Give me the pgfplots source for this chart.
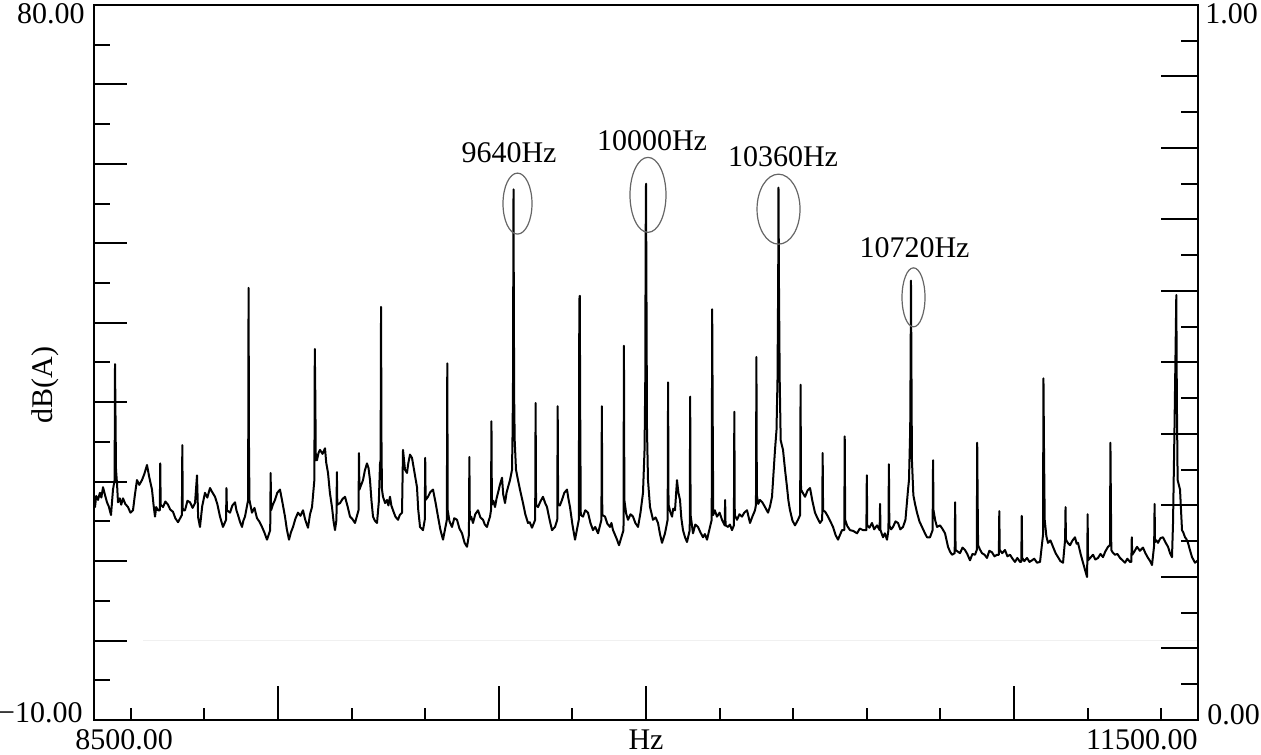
\documentclass[border=0pt]{standalone}
\usepackage{fontspec}
\setmainfont{Liberation Serif}
\usepackage{pgfplots}
\pgfplotsset{compat=1.18}
\newcommand\lbl{\fontsize{15}{18}\selectfont}
\begin{document}
\begin{tikzpicture}[font=\lbl]
\useasboundingbox (-47pt,-17pt) rectangle (583.5pt,360pt);
\pgfplotsset{base/.style={scale only axis, width=552pt, height=357.5pt,
  at={(0pt,0pt)}, anchor=south west, axis line style={line width=1pt, black},
  every tick/.style={black, line width=1pt}, tick align=inside,
  xmin=8500, xmax=11500, scaled ticks=false, xticklabels={}, yticklabels={}}}
% y ticks, left
\begin{axis}[base, name=ax, ymin=-10, ymax=80, xtick=\empty,
  ytick={0,10,20,30,40,50,60,70}, minor ytick={-5,5,15,25,35,45,55,65,75},
  ytick pos=left, major tick length=16.5pt, minor tick length=8pt]
\addplot[black!6, line width=0.8pt, forget plot] coordinates {(8634,0) (11500,0)};
\addplot[black, line width=1pt, line join=round, mark=none] table[row sep=\\] {
x y\\
8500 17.1\\ 8502.7 16.8\\ 8506 18.2\\ 8510.9 17.7\\ 8516 18.6\\ 8520 18.0\\ 8524.5 19.3\\ 8530 18.3\\ 8535.3 17.4\\ 8540 16.9\\ 8546.2 15.8\\ 8551.6 19.0\\
8556.0 20.2\\ 8557.1 34.8\\ 8558.2 29.4\\ 8559.8 21.5\\ 8562.5 19.8\\
8565.2 17.4\\ 8570 17.9\\ 8574 17.1\\ 8578.8 17.9\\ 8585 17.2\\ 8592.4 16.8\\ 8599 16.1\\ 8606.0 16.4\\ 8611 18.3\\ 8616.8 20.2\\ 8623 19.6\\ 8630.4 20.2\\ 8637 21.0\\ 8644.0 22.1\\ 8650 20.6\\ 8657.6 19.0\\ 8662 17.0\\ 8665.8 15.6\\ 8669 16.8\\ 8673.9 16.4\\
8678.8 16.4\\ 8680 22.3\\ 8681.2 17.1\\
8687.5 16.8\\ 8694 17.5\\ 8701.1 17.1\\ 8707 16.5\\ 8714.7 16.2\\ 8721 15.4\\ 8728.3 14.9\\
8738.8 15.8\\ 8740 24.6\\ 8741.2 16.4\\
8747.3 16.4\\ 8754 17.6\\ 8760.9 17.4\\ 8768 16.7\\ 8774.5 17.3\\ 8779.9 20.8\\ 8783 15.5\\ 8788.0 14.3\\ 8794 16.9\\ 8801.6 18.6\\ 8808 18.0\\ 8815.2 19.2\\ 8821 18.7\\ 8828.8 18.1\\ 8835 17.2\\ 8842.4 15.6\\ 8850.5 14.3\\
8858.8 15.2\\ 8860 19.2\\ 8861.2 16.4\\
8869.6 16.1\\ 8876 17.0\\ 8883.2 17.4\\ 8887 16.4\\ 8891.3 15.8\\ 8897 14.9\\ 8902.2 14.3\\ 8906 15.1\\ 8910.3 15.6\\
8918.8 17.7\\ 8920 44.4\\ 8921.2 24.0\\ 8922.4 17.7\\
8929.3 16.1\\ 8936 16.7\\ 8942.9 15.4\\ 8949 15.0\\ 8956.5 14.3\\ 8963 13.6\\ 8970.1 12.7\\
8978.8 13.9\\ 8980 21.1\\ 8981.2 16.4\\
8986 17.1\\ 8991.8 17.7\\ 8998 18.6\\ 9005.4 19.0\\ 9012 17.4\\ 9019.0 15.6\\ 9024 14.0\\ 9029.9 12.7\\ 9035 13.6\\ 9040.8 14.3\\ 9047 15.3\\ 9054.3 16.1\\ 9061 15.7\\ 9067.9 16.4\\ 9074 15.2\\ 9081.5 14.2\\ 9087 15.9\\ 9092.4 16.8\\
9098.8 20.2\\ 9100 36.7\\ 9101.5 30.3\\ 9102.7 22.7\\
9106.0 22.7\\ 9110 23.6\\ 9114.1 24.0\\ 9121 23.5\\ 9127.7 24.2\\ 9131 22.4\\ 9135.9 21.1\\ 9141 18.6\\ 9146.7 16.8\\ 9151 15.0\\ 9154.9 13.9\\
9158.8 15.2\\ 9160 21.2\\ 9161.2 17.1\\
9168.5 17.3\\ 9175 17.8\\ 9182.1 18.1\\ 9189 16.9\\ 9195.7 15.6\\ 9202 15.3\\ 9209.2 14.8\\
9218.8 16.4\\ 9220 23.6\\ 9221.2 19.0\\
9231.0 20.2\\ 9236 21.4\\ 9241.8 22.3\\ 9246 21.7\\ 9250.0 20.2\\ 9254 17.6\\ 9258.2 15.6\\ 9263 15.1\\ 9269.0 14.8\\ 9274 17.5\\ 9277.2 22.3\\
9278.8 22.7\\ 9280 42.0\\ 9281.3 24.0\\ 9282.6 19.0\\
9285.3 18.1\\ 9291 17.3\\ 9296.2 17.7\\ 9300 17.0\\ 9304.3 18.1\\ 9308 17.0\\ 9312.5 16.4\\ 9319 15.6\\ 9326.1 15.2\\ 9331 15.8\\ 9337.0 16.1\\ 9339.7 24.0\\ 9345.1 21.5\\ 9350.5 21.1\\ 9354 22.3\\ 9358.7 23.4\\ 9364.1 23.0\\ 9370 21.4\\ 9377.7 19.3\\ 9381 16.5\\ 9385.9 14.3\\ 9394.0 13.9\\
9398.8 15.2\\ 9400 23.0\\ 9401.2 17.7\\
9407.6 18.1\\ 9414 18.7\\ 9421.2 19.0\\ 9428 17.4\\ 9434.8 15.6\\ 9441 14.0\\ 9448.4 12.7\\
9458.8 15.2\\ 9460 34.9\\ 9461.2 16.4\\
9466 15.0\\ 9472.8 14.3\\ 9479 15.4\\ 9486.4 15.2\\ 9493 14.1\\ 9500.0 13.5\\ 9507 12.3\\ 9513.6 11.8\\
9518.8 13.3\\ 9520 23.1\\ 9521.2 15.2\\
9525 15.6\\ 9529.9 14.8\\ 9536 15.9\\ 9543.5 16.4\\ 9550 15.5\\ 9557.1 15.2\\ 9562 14.6\\ 9567.9 14.3\\ 9572 15.0\\ 9576.1 15.6\\
9578.8 16.4\\ 9580 27.6\\ 9581.2 17.1\\
9585 17.6\\ 9589.7 16.8\\ 9594 17.9\\ 9597.8 18.6\\ 9603 19.6\\ 9608.7 20.5\\ 9612 18.4\\ 9616.9 17.3\\ 9621 18.6\\ 9625.0 19.3\\ 9630.4 20.2\\ 9635.9 21.5\\
9637.5 26.5\\ 9638.7 33.2\\ 9639.4 47.9\\ 9640 56.8\\ 9640.8 42.9\\ 9641.8 30.3\\ 9643.2 25.2\\ 9646.7 21.5\\
9652.2 20.2\\ 9658 18.9\\ 9665.8 17.3\\ 9672 15.9\\ 9679.3 14.8\\ 9684 14.9\\ 9690.2 14.2\\
9698.8 15.2\\ 9700 29.9\\ 9701.2 17.1\\
9706.5 16.8\\ 9713 17.5\\ 9720.1 18.1\\ 9726 17.3\\ 9731.0 16.8\\ 9738 15.2\\ 9744.6 13.9\\ 9752.7 14.3\\
9758.8 15.2\\ 9760 29.5\\ 9761.2 17.1\\
9766 17.0\\ 9771.7 17.7\\ 9778 18.6\\ 9785.3 19.0\\ 9789 17.9\\ 9793.5 16.8\\ 9800 14.6\\ 9807.1 12.7\\
9817.4 15.2\\ 9818.8 42.9\\ 9820 43.4\\ 9821.3 27.8\\ 9822.7 15.8\\
9828.8 15.6\\ 9835 16.4\\ 9842.4 16.1\\ 9849 14.8\\ 9856.0 13.9\\ 9862 14.3\\ 9869.6 13.5\\
9878.8 15.2\\ 9880 29.5\\ 9881.2 15.8\\
9888.6 15.6\\ 9895 14.7\\ 9902.2 14.3\\ 9906 14.8\\ 9910.3 13.9\\ 9915 13.4\\ 9921.2 12.7\\ 9926.6 12.0\\
9938.8 13.9\\ 9940 37.1\\ 9941.2 17.7\\
9946 16.0\\ 9951.1 15.2\\ 9958 15.9\\ 9964.7 15.6\\ 9971 14.8\\ 9978.3 14.3\\ 9985 16.1\\ 9991.8 18.6\\
9996 24.0\\ 9998 32.8\\ 9999 50.4\\ 10000 57.5\\ 10001.3 42.9\\ 10002.7 26.5\\ 10005.4 20.2\\
10010.9 16.8\\ 10015 16.0\\ 10019.0 15.2\\ 10026 15.5\\ 10032.6 14.8\\ 10038 13.4\\ 10043.5 12.3\\ 10051.6 13.5\\
10058.8 15.2\\ 10060 32.5\\ 10061.2 17.1\\
10066 16.2\\ 10070.7 15.6\\ 10074 16.6\\ 10078.8 16.4\\ 10084.2 20.2\\ 10088 18.6\\ 10092.4 17.7\\ 10096 15.4\\ 10100.5 13.9\\ 10106 13.0\\ 10111.4 12.4\\
10118.8 13.9\\ 10120 30.7\\ 10121.2 15.8\\
10127.7 13.5\\ 10134 14.6\\ 10141.3 14.3\\ 10148 13.6\\ 10154.9 13.0\\ 10160 13.4\\ 10165.8 12.7\\ 10173.9 14.3\\
10178.5 15.2\\ 10179.8 41.7\\ 10181.4 26.5\\ 10182.7 15.8\\
10187 16.4\\ 10192.9 15.6\\ 10200 16.1\\ 10206.5 15.2\\
10213.8 14.5\\ 10215 17.7\\ 10216.2 14.5\\
10222.8 14.3\\ 10228 14.6\\ 10233.7 13.9\\
10238.8 14.5\\ 10240 28.8\\ 10241.2 15.8\\
10247.3 15.2\\ 10254 15.9\\ 10260.9 15.6\\ 10267 16.1\\ 10274.5 16.4\\ 10282.6 14.8\\ 10289 15.6\\ 10296.2 16.4\\
10298.8 17.1\\ 10300 35.7\\ 10301.2 18.3\\
10305 17.2\\ 10309.8 17.7\\ 10316 17.4\\ 10323.4 16.8\\ 10331.5 16.1\\ 10337 16.9\\ 10342.4 18.1\\ 10350.5 24.0\\
10354.6 26.5\\ 10357.3 32.8\\ 10359.2 45.4\\ 10360 57.0\\ 10361.4 44.1\\ 10363.3 32.8\\ 10366 25.2\\
10372.3 24.0\\ 10378 21.4\\ 10383.2 19.3\\ 10387 17.6\\ 10391.3 16.4\\ 10398 15.1\\ 10404.9 14.5\\ 10413.0 15.2\\
10418.8 15.8\\ 10420 32.2\\ 10421.2 19.0\\
10426 18.6\\ 10432.1 18.1\\ 10439 18.9\\ 10445.7 19.2\\ 10452 17.6\\ 10459.2 16.1\\ 10466 15.4\\ 10472.8 14.8\\
10478.8 15.2\\ 10480 23.6\\ 10481.2 16.4\\
10487 16.2\\ 10494.6 15.6\\ 10501 15.0\\ 10508.2 14.3\\ 10515 13.3\\ 10521.7 12.7\\ 10532.6 13.9\\
10538.8 13.9\\ 10540 25.7\\ 10541.2 15.2\\
10547 14.4\\ 10554.3 13.9\\ 10563 13.8\\ 10573.4 13.5\\ 10581 14.1\\ 10589.7 13.9\\
10598.8 13.9\\ 10600 20.8\\ 10601.2 14.5\\
10607 14.2\\ 10614.1 14.8\\ 10620 14.0\\ 10627.7 14.5\\
10634.8 13.9\\ 10636 17.2\\ 10637.2 13.9\\
10644.0 13.0\\ 10649 13.5\\ 10654.9 12.7\\
10658.8 13.9\\ 10660 22.2\\ 10661.2 14.5\\
10666 14.0\\ 10671.2 14.3\\ 10678 15.0\\ 10684.8 14.8\\ 10691 14.0\\ 10698.4 14.3\\ 10705 15.2\\ 10712.0 19.0\\
10714.6 20.2\\ 10717.9 26.5\\ 10719.2 36.6\\ 10720 45.3\\ 10721 36.6\\ 10722.6 22.7\\ 10726.5 18.3\\
10731 17.2\\ 10736.4 16.1\\ 10743 15.0\\ 10750.0 14.3\\ 10757 13.6\\ 10763.6 13.0\\ 10771.7 13.0\\
10778.8 13.9\\ 10780 22.7\\ 10781.2 16.4\\
10786 15.1\\ 10790.8 14.3\\ 10798.9 14.5\\ 10805 14.1\\ 10812.5 13.5\\ 10820.7 11.8\\ 10826 11.2\\ 10831.5 10.8\\
10838.8 11.0\\ 10840 17.4\\ 10841.2 11.4\\
10847 11.2\\ 10853.3 11.0\\ 10860 11.7\\ 10866.8 11.4\\ 10873 10.9\\ 10880.4 10.1\\ 10887 10.9\\ 10894.0 10.8\\
10898.8 11.4\\ 10900 24.9\\ 10901.2 17.7\\ 10902.4 12.0\\
10907 11.5\\ 10913.0 11.0\\ 10920 10.8\\ 10926.6 10.4\\ 10933 11.3\\ 10940.2 11.1\\ 10947 10.6\\ 10953.8 10.8\\
10958.8 10.8\\ 10960 16.3\\ 10961.2 11.4\\
10968 11.0\\ 10975.5 11.4\\ 10982 10.6\\ 10989.1 10.8\\ 10996 10.3\\ 11002.7 9.9\\ 11009 10.4\\ 11016.3 9.9\\
11019.8 9.9\\ 11021 15.7\\ 11022.2 10.4\\
11028 10.0\\ 11035.3 10.4\\ 11042 9.9\\ 11048.9 10.1\\ 11055 10.3\\ 11062.5 9.8\\ 11070.7 9.9\\
11078.8 13.3\\ 11080 33.0\\ 11081.5 24.0\\ 11083.4 15.2\\
11088 13.1\\ 11092.4 12.3\\ 11099 12.6\\ 11106.0 11.8\\ 11113 11.0\\ 11119.6 10.5\\ 11126 10.0\\ 11133.2 9.8\\
11138.8 12.7\\ 11140 16.8\\ 11141.2 12.7\\
11146 12.3\\ 11152.2 12.0\\ 11159 12.6\\ 11165.8 13.0\\ 11170 12.2\\ 11173.9 12.3\\ 11181 10.9\\ 11187.5 9.8\\ 11198.4 8.0\\
11199.2 10.1\\ 11200 15.9\\ 11201.2 10.1\\
11207 10.4\\ 11214.7 10.8\\ 11221 10.2\\ 11228.3 10.4\\ 11235 10.9\\ 11241.8 10.5\\ 11248 11.2\\ 11255.4 11.8\\
11260.8 12.0\\ 11262 24.9\\ 11263.2 17.7\\ 11264.4 11.4\\
11268 11.1\\ 11274.5 10.8\\ 11281 10.9\\ 11288.0 10.4\\ 11295 10.1\\ 11301.6 9.8\\ 11308 10.3\\ 11315.2 9.9\\
11318.8 9.9\\ 11320 13.0\\ 11321.2 10.8\\
11327 11.2\\ 11334.2 11.8\\ 11342 11.3\\ 11350.5 11.7\\ 11357 11.0\\ 11364.1 10.4\\ 11370 10.0\\ 11375.0 9.5\\
11380.8 12.0\\ 11382 17.2\\ 11383.2 12.4\\
11387 12.6\\ 11391.3 12.3\\ 11398 12.9\\ 11404.9 13.0\\ 11411 12.4\\ 11418.5 11.8\\ 11424 11.0\\ 11429.3 10.5\\ 11432.1 14.8\\
11436 26.5\\ 11439 36.6\\ 11441 43.5\\ 11442.5 30.3\\ 11444.6 20.2\\
11451.1 19.0\\ 11456.5 13.9\\ 11460 13.6\\ 11464.7 13.0\\ 11468 12.8\\ 11472.8 12.3\\ 11478 11.4\\ 11483.7 10.5\\ 11491.8 9.8\\ 11500 10.1\\
};
\draw[black!60, line width=0.6pt] (axis cs:9650.8,55.0) ellipse [x radius=7.25pt, y radius=15.25pt];
\draw[black!60, line width=0.6pt] (axis cs:10005.4,56.1) ellipse [x radius=9pt, y radius=18.75pt];
\draw[black!60, line width=0.6pt] (axis cs:10360.1,54.3) ellipse [x radius=10.75pt, y radius=17.5pt];
\draw[black!60, line width=0.6pt] (axis cs:10726.9,43.2) ellipse [x radius=5.75pt, y radius=14.75pt];
\node[inner sep=0pt] at (axis cs:9627.7,61.4) {9640Hz};
\node[inner sep=0pt] at (axis cs:10016.3,62.9) {10000Hz};
\node[inner sep=0pt] at (axis cs:10372.3,60.9) {10360Hz};
\node[inner sep=0pt] at (axis cs:10729.6,49.5) {10720Hz};
\end{axis}
% y ticks, right
\begin{axis}[base, ymin=0, ymax=1, xtick=\empty,
  ytick={0.1,0.2,0.3,0.4,0.5,0.6,0.7,0.8,0.9},
  minor ytick={0.05,0.15,0.25,0.35,0.45,0.55,0.65,0.75,0.85,0.95},
  ytick pos=right, major tick length=18.5pt, minor tick length=8.5pt]
\end{axis}
% x ticks, bottom
\begin{axis}[base, ymin=-10, ymax=80, ytick=\empty,
  xtick={9000,9600,10000,11000},
  minor xtick={8600,8800,9200,9400,9800,10200,10400,10600,10800,11200,11400},
  xtick pos=bottom, major tick length=17pt, minor tick length=6pt]
\end{axis}
\node[inner sep=0pt, anchor=east] at ([xshift=-4.5pt, yshift=-4.5pt]ax.north west) {80.00};
\node[inner sep=0pt, anchor=east] at ([xshift=-5.5pt, yshift=3.5pt]ax.south west) {−10.00};
\node[inner sep=0pt, anchor=west] at ([xshift=3.5pt, yshift=-4.5pt]ax.north east) {1.00};
\node[inner sep=0pt, anchor=west] at ([xshift=4.5pt, yshift=2.5pt]ax.south east) {0.00};
\node[inner sep=0pt, anchor=west] at ([xshift=-9.5pt, yshift=-10pt]ax.south west) {8500.00};
\node[inner sep=0pt, anchor=east] at ([yshift=-10pt]ax.south east) {11500.00};
\node[inner sep=0pt] at ([yshift=-10pt]ax.south) {Hz};
\node[inner sep=0pt, rotate=90] at ([xshift=-24.5pt, yshift=167.5pt]ax.south west) {dB(A)};
\end{tikzpicture}
\end{document}
